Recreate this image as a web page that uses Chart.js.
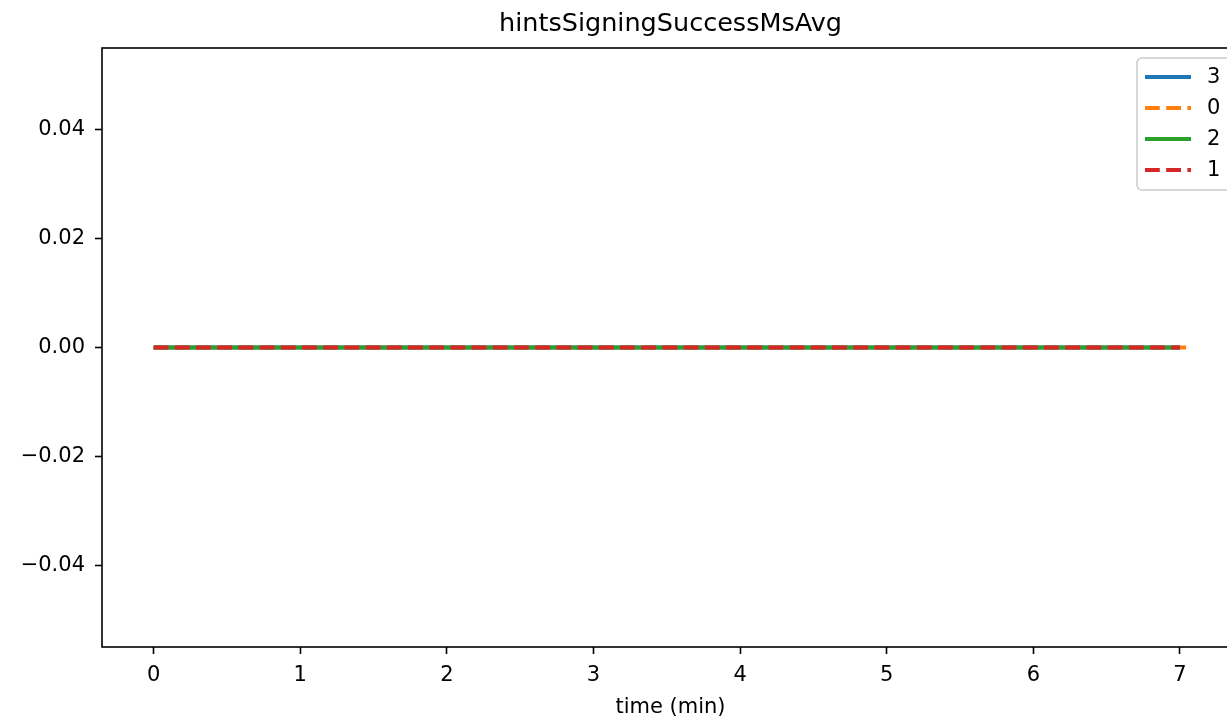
<!DOCTYPE html>
<html>
<head>
<meta charset="utf-8">
<script src="https://cdn.jsdelivr.net/npm/chart.js@4.4.1/dist/chart.umd.min.js"></script>
<style>
  html, body { margin: 0; padding: 0; background: #fff; overflow: hidden; }
  canvas { display: block; }
</style>
</head>
<body>
<canvas id="chart" width="1250" height="721" style="width:1250px;height:721px"></canvas>
<script>
// series, in the legend's order
const seriesNames = ["3", "0", "2", "1"];
const seriesColors = ["#1f77b4", "#ff7f0e", "#2ca02c", "#d62728"];
const seriesDashed = [false, true, false, true];

// time (min) per series and the metric value
const time3 = [0, 1, 2, 3, 4, 5, 6, 7];
const time0 = [0, 1, 2, 3, 4, 5, 6, 7, 7.05];
const time2 = [0, 1, 2, 3, 4, 5, 6, 7];
const time1 = [0, 1, 2, 3, 4, 5, 6, 7];
const values3 = [0, 0, 0, 0, 0, 0, 0, 0];
const values0 = [0, 0, 0, 0, 0, 0, 0, 0, 0];
const values2 = [0, 0, 0, 0, 0, 0, 0, 0];
const values1 = [0, 0, 0, 0, 0, 0, 0, 0];

const xTicks = [0, 1, 2, 3, 4, 5, 6, 7];
const yTicks = [-0.04, -0.02, 0, 0.02, 0.04];

const seriesTimes = [time3, time0, time2, time1];
const seriesValues = [values3, values0, values2, values1];

const DASH = [14.8, 6.4];
const FONT = "DejaVu Sans";

Chart.defaults.font.family = FONT;
Chart.defaults.font.size = 21;
Chart.defaults.color = "#000";

const frameAndLegend = {
  id: "frameAndLegend",
  afterDraw(chart) {
    const ctx = chart.ctx;
    const ca = chart.chartArea;
    ctx.save();

    // axes frame
    ctx.strokeStyle = "#000";
    ctx.lineWidth = 1.6;
    ctx.strokeRect(ca.left, ca.top, ca.right - ca.left, ca.bottom - ca.top);

    // title
    ctx.fillStyle = "#000";
    ctx.font = "25.5px '" + FONT + "'";
    ctx.textAlign = "center";
    ctx.textBaseline = "alphabetic";
    ctx.fillText("hintsSigningSuccessMsAvg", (ca.left + ca.right) / 2, 31);

    // legend
    const lx = ca.right - 102, ly = ca.top + 10;
    const lw = 96, lh = 132;
    ctx.beginPath();
    ctx.roundRect(lx, ly, lw, lh, 5);
    ctx.fillStyle = "rgba(255,255,255,0.8)";
    ctx.fill();
    ctx.strokeStyle = "#cccccc";
    ctx.lineWidth = 1.6;
    ctx.stroke();

    ctx.font = "21px '" + FONT + "'";
    ctx.textAlign = "left";
    ctx.textBaseline = "middle";
    seriesNames.forEach((name, i) => {
      const y = ly + 19 + i * 31;
      ctx.beginPath();
      ctx.setLineDash(seriesDashed[i] ? DASH : []);
      ctx.strokeStyle = seriesColors[i];
      ctx.lineWidth = 4;
      ctx.moveTo(lx + 8, y);
      ctx.lineTo(lx + 54, y);
      ctx.stroke();
      ctx.setLineDash([]);
      ctx.fillStyle = "#000";
      ctx.fillText(name, lx + 70, y + 1);
    });
    ctx.restore();
  },
};

new Chart(document.getElementById("chart"), {
  type: "line",
  data: {
    datasets: seriesNames.map((name, i) => ({
      label: name,
      data: seriesTimes[i].map((t, j) => ({ x: t, y: seriesValues[i][j] })),
      borderColor: seriesColors[i],
      borderWidth: 4,
      borderDash: seriesDashed[i] ? DASH : [],
      pointRadius: 0,
      tension: 0,
      fill: false,
      order: seriesNames.length - i,
    })),
  },
  options: {
    responsive: false,
    animation: false,
    layout: { padding: { top: 48, right: 11, left: 0, bottom: 0 } },
    plugins: {
      legend: { display: false },
      title: { display: false },
      tooltip: { enabled: false },
    },
    scales: {
      x: {
        type: "linear",
        min: -0.3525,
        max: 7.4025,
        afterBuildTicks: (axis) => {
          axis.ticks = xTicks.map((v) => ({ value: v }));
        },
        afterFit: (scale) => {
          scale.height = 74;
        },
        ticks: {
          callback: (v) => String(v),
          autoSkip: false,
          maxRotation: 0,
          padding: 9,
          color: "#000",
        },
        grid: {
          drawOnChartArea: false,
          drawTicks: true,
          tickLength: 7,
          tickWidth: 1.6,
          tickColor: "#000",
        },
        border: { display: false },
        title: {
          display: true,
          text: "time (min)",
          color: "#000",
          font: { size: 21 },
          padding: { top: 2, bottom: 1 },
        },
      },
      y: {
        type: "linear",
        min: -0.055,
        max: 0.055,
        afterBuildTicks: (axis) => {
          axis.ticks = yTicks.map((v) => ({ value: v }));
        },
        afterFit: (scale) => {
          scale.width = 102;
        },
        ticks: {
          callback: (v) => (v < 0 ? "\u2212" : "") + Math.abs(v).toFixed(2),
          autoSkip: false,
          padding: 10,
          color: "#000",
        },
        grid: {
          drawOnChartArea: false,
          drawTicks: true,
          tickLength: 7,
          tickWidth: 1.6,
          tickColor: "#000",
        },
        border: { display: false },
      },
    },
  },
  plugins: [frameAndLegend],
});
</script>
</body>
</html>
